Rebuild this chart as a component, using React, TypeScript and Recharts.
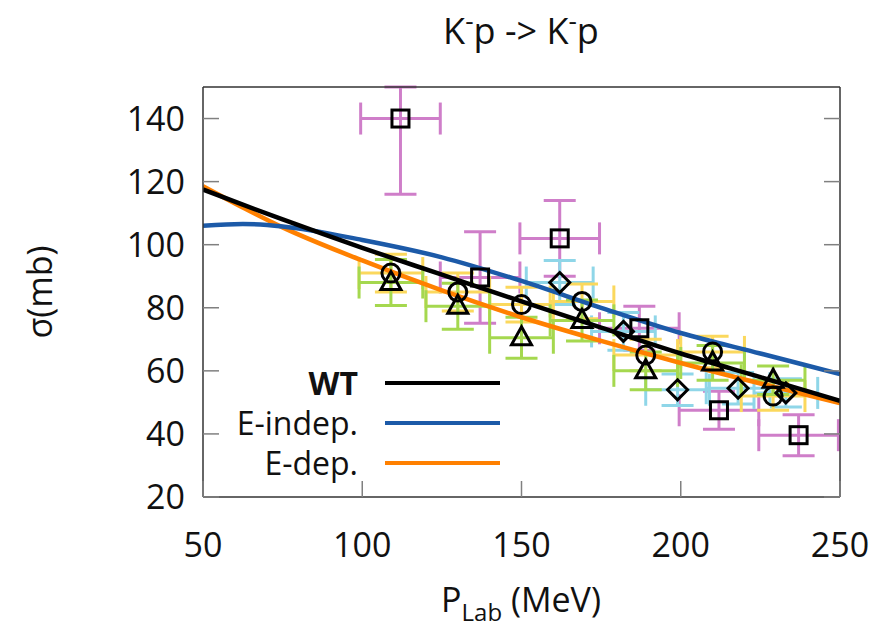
import React from 'react'
import {
  ComposedChart,
  Line,
  Scatter,
  ErrorBar,
  XAxis,
  YAxis,
  Legend
} from 'recharts'

const FONT = '"Open Sans", "DejaVu Sans", sans-serif'

// model curves
const curveX = [50, 62.5, 75, 100, 125, 150, 175, 200, 225, 250]
const wtY = [117.5, 112.7, 108, 99, 90.5, 82, 73.7, 65.5, 58, 50.5]
const eIndepY = [106, 106.6, 105.8, 101.5, 96, 88.5, 80, 72, 65.5, 59]
const eDepY = [118.5, 111.8, 105.5, 95, 85.5, 77, 69.5, 62.5, 56, 49.8]

// experimental points
const circX = [109, 130, 150, 169, 189, 210, 229]
const circY = [91, 85, 81, 82, 65, 66, 52]
const circEx = [10, 10, 10, 10, 10, 10, 10]
const circEy = [6, 6, 5.5, 5.5, 5, 5, 4.5]

const triX = [109, 130, 150, 169, 189, 210, 229]
const triY = [88, 80.5, 70.5, 76, 60, 62.5, 57]
const triEx = [10, 10, 10, 10, 10, 10, 10]
const triEy = [7.3, 7.3, 6.5, 6.5, 6, 5.5, 4.5]

const diaX = [162, 182, 199, 218, 233]
const diaY = [88, 72.5, 54, 54.5, 53]
const diaEx = [10.5, 10, 10, 10, 10]
const diaEy = [7, 6, 5, 5, 4.5]

const sqX = [112, 137, 162, 187, 212, 237]
const sqY = [140, 89.6, 102, 73.5, 47.5, 39.6]
const sqEx = [12.5, 12.5, 12.5, 12.5, 12.5, 12.5]
const sqEy: Array<number | number[]> = [[24, 10], 14.5, 12, 7, 6, 6.5]

const xTicks = [50, 100, 150, 200, 250]
const yTicks = [20, 40, 60, 80, 100, 120, 140]

const legendItems = [
  { name: 'WT', color: '#000000', bold: true },
  { name: 'E-indep.', color: '#1c5aa8', bold: false },
  { name: 'E-dep.', color: '#ff8000', bold: false }
]

const toRows = (xs: number[], ys: number[]) => xs.map((x, i) => ({ x, y: ys[i] }))
const toPoints = (xs: number[], ys: number[], ex: number[], ey: Array<number | number[]>) =>
  xs.map((x, i) => ({ x, y: ys[i], ex: ex[i], ey: ey[i] }))

const wtData = toRows(curveX, wtY)
const eIndepData = toRows(curveX, eIndepY)
const eDepData = toRows(curveX, eDepY)

const circData = toPoints(circX, circY, circEx, circEy)
const triData = toPoints(triX, triY, triEx, triEy)
const diaData = toPoints(diaX, diaY, diaEx, diaEy)
const sqData = toPoints(sqX, sqY, sqEx, sqEy)

const MARK = { fill: 'none', stroke: '#000', strokeWidth: 3 }

const SquareMark = ({ cx, cy }: any) => (
  <rect x={cx - 8.5} y={cy - 8.5} width={17} height={17} {...MARK} />
)
const CircleMark = ({ cx, cy }: any) => <circle cx={cx} cy={cy} r={9} {...MARK} />
const TriangleMark = ({ cx, cy }: any) => (
  <polygon points={`${cx},${cy - 11} ${cx + 10},${cy + 7} ${cx - 10},${cy + 7}`} {...MARK} />
)
const DiamondMark = ({ cx, cy }: any) => (
  <polygon points={`${cx},${cy - 10} ${cx + 10},${cy} ${cx},${cy + 10} ${cx - 10},${cy}`} {...MARK} />
)

const TICK_COLOR = '#808080'
const TEXT_COLOR = '#111'
const ERR_W = 3

const BottomTick = ({ x, y, payload }: any) => (
  <g>
    <line x1={x} x2={x} y1={y} y2={y - 16} stroke={TICK_COLOR} strokeWidth={1.5} />
    <text x={x} y={y + 60} textAnchor="middle" fontSize={34} fontFamily={FONT} fill={TEXT_COLOR}>
      {payload.value}
    </text>
  </g>
)

const TopTick = ({ x, y }: any) => (
  <line x1={x} x2={x} y1={y} y2={y + 16} stroke={TICK_COLOR} strokeWidth={1.5} />
)

const LeftTick = ({ x, y, payload }: any) => (
  <g>
    <line x1={x} x2={x + 16} y1={y} y2={y} stroke={TICK_COLOR} strokeWidth={1.5} />
    <text x={x - 18} y={y + 12} textAnchor="end" fontSize={34} fontFamily={FONT} fill={TEXT_COLOR}>
      {payload.value}
    </text>
  </g>
)

const RightTick = ({ x, y }: any) => (
  <line x1={x} x2={x - 16} y1={y} y2={y} stroke={TICK_COLOR} strokeWidth={1.5} />
)

const XTitle = () => (
  <text x={521} y={612} textAnchor="middle" fontSize={34} fontFamily={FONT} fill={TEXT_COLOR}>
    P<tspan fontSize={24} dy={9}>Lab</tspan>
    <tspan dy={-9}> (MeV)</tspan>
  </text>
)

const YTitle = () => (
  <text
    x={0}
    y={0}
    transform="translate(52,292) rotate(-90)"
    textAnchor="middle"
    fontSize={34}
    fontFamily={FONT}
    fill={TEXT_COLOR}
  >
    σ(mb)
  </text>
)

const Title = () => (
  <text x={521} y={44} textAnchor="middle" fontSize={36} fontFamily={FONT} fill={TEXT_COLOR}>
    K<tspan fontSize={26} dy={-14}>-</tspan>
    <tspan dy={14}>p -&gt; K</tspan>
    <tspan fontSize={26} dy={-14}>-</tspan>
    <tspan dy={14}>p</tspan>
  </text>
)

const LegendBox = () => (
  <div style={{ fontFamily: FONT, fontSize: 32, color: TEXT_COLOR }}>
    {legendItems.map((it) => (
      <div key={it.name} style={{ display: 'flex', alignItems: 'center', height: 40 }}>
        <span
          style={{
            width: 160,
            textAlign: 'right',
            fontWeight: it.bold ? 700 : 400,
            lineHeight: '34px',
            display: 'inline-block'
          }}
        >
          {it.name}
        </span>
        <span style={{ display: 'inline-block', marginLeft: 27, width: 115, height: 4, background: it.color }} />
      </div>
    ))}
  </div>
)

const AXIS_LINE = { stroke: '#333', strokeWidth: 1.5 }

export default function App() {
  return (
    <div style={{ position: 'absolute', left: 0, top: 0, width: 888, height: 627, background: '#fff' }}>
      <ComposedChart width={888} height={627} margin={{ top: 0, right: 0, bottom: 0, left: 0 }}>
        <XAxis
          dataKey="x"
          type="number"
          domain={[50, 250]}
          ticks={xTicks}
          interval={0}
          allowDataOverflow
          height={130}
          axisLine={AXIS_LINE}
          tickLine={false}
          tickSize={0}
          tickMargin={0}
          tick={<BottomTick />}
          label={{ content: () => <XTitle /> }}
        />
        <XAxis
          xAxisId="top"
          orientation="top"
          type="number"
          domain={[50, 250]}
          ticks={xTicks}
          interval={0}
          allowDataOverflow
          height={87}
          axisLine={AXIS_LINE}
          tickLine={false}
          tickSize={0}
          tickMargin={0}
          tick={<TopTick />}
          label={{ content: () => <Title /> }}
        />
        <YAxis
          dataKey="y"
          type="number"
          domain={[20, 150]}
          ticks={yTicks}
          interval={0}
          allowDataOverflow
          width={203}
          axisLine={AXIS_LINE}
          tickLine={false}
          tickSize={0}
          tickMargin={0}
          tick={<LeftTick />}
          label={{ content: () => <YTitle /> }}
        />
        <YAxis
          yAxisId="right"
          orientation="right"
          type="number"
          domain={[20, 150]}
          ticks={yTicks}
          interval={0}
          allowDataOverflow
          width={48}
          axisLine={AXIS_LINE}
          tickLine={false}
          tickSize={0}
          tickMargin={0}
          tick={<RightTick />}
        />
        <Legend
          layout="vertical"
          align="center"
          verticalAlign="middle"
          wrapperStyle={{ left: 198, top: 363, width: 310 }}
          content={() => <LegendBox />}
        />

        <Scatter data={sqData} shape={<SquareMark />} isAnimationActive={false}>
          <ErrorBar dataKey="ex" direction="x" width={16} stroke="#cf7ec9" strokeWidth={ERR_W} />
          <ErrorBar dataKey="ey" direction="y" width={16} stroke="#cf7ec9" strokeWidth={ERR_W} />
        </Scatter>
        <Scatter data={diaData} shape={<DiamondMark />} isAnimationActive={false}>
          <ErrorBar dataKey="ex" direction="x" width={16} stroke="#8fd6e8" strokeWidth={ERR_W} />
          <ErrorBar dataKey="ey" direction="y" width={16} stroke="#8fd6e8" strokeWidth={ERR_W} />
        </Scatter>
        <Scatter data={circData} shape={<CircleMark />} isAnimationActive={false}>
          <ErrorBar dataKey="ex" direction="x" width={16} stroke="#fbd85d" strokeWidth={ERR_W} />
          <ErrorBar dataKey="ey" direction="y" width={16} stroke="#fbd85d" strokeWidth={ERR_W} />
        </Scatter>
        <Scatter data={triData} shape={<TriangleMark />} isAnimationActive={false}>
          <ErrorBar dataKey="ex" direction="x" width={16} stroke="#a5d84f" strokeWidth={ERR_W} />
          <ErrorBar dataKey="ey" direction="y" width={16} stroke="#a5d84f" strokeWidth={ERR_W} />
        </Scatter>

        <Line data={eDepData} dataKey="y" type="monotone" stroke="#ff8000" strokeWidth={4.5} dot={false} isAnimationActive={false} />
        <Line data={eIndepData} dataKey="y" type="monotone" stroke="#1c5aa8" strokeWidth={4.5} dot={false} isAnimationActive={false} />
        <Line data={wtData} dataKey="y" type="monotone" stroke="#000000" strokeWidth={4.5} dot={false} isAnimationActive={false} />
      </ComposedChart>
    </div>
  )
}
